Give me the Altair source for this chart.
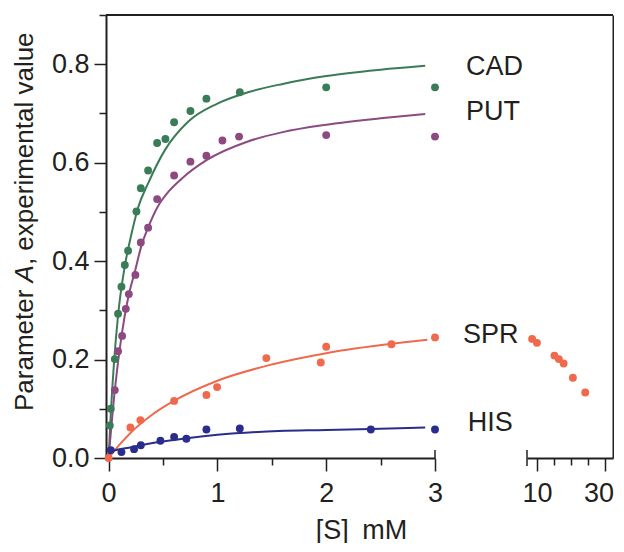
import altair as alt
import pandas as pd

# ---------------- data ----------------
series_names = ["CAD", "PUT", "SPR", "HIS"]
series_colors = ["#3a7b58", "#8c4a80", "#ef6a4c", "#2a2d8c"]

cad_x = [0.011, 0.02, 0.057, 0.087, 0.118, 0.149, 0.179, 0.256, 0.296, 0.363,
         0.446, 0.522, 0.602, 0.752, 0.899, 1.206, 2.0, 3.0]
cad_y = [0.066, 0.100, 0.201, 0.293, 0.348, 0.392, 0.421, 0.501, 0.548, 0.584,
         0.640, 0.648, 0.682, 0.705, 0.730, 0.743, 0.753, 0.753]

put_x = [0.057, 0.087, 0.124, 0.158, 0.186, 0.246, 0.296, 0.363, 0.446, 0.602,
         0.752, 0.899, 1.046, 1.199, 2.0, 3.0]
put_y = [0.138, 0.217, 0.248, 0.303, 0.333, 0.372, 0.438, 0.468, 0.526, 0.574,
         0.602, 0.614, 0.645, 0.653, 0.656, 0.653]

spr_x = [0.0, 0.2, 0.292, 0.602, 0.899, 0.997, 1.45, 1.95, 2.0, 2.6, 3.0]
spr_y = [0.0, 0.062, 0.077, 0.116, 0.128, 0.144, 0.203, 0.194, 0.226, 0.231, 0.245]

his_x = [0.02, 0.118, 0.234, 0.296, 0.476, 0.602, 0.715, 0.899, 1.206, 2.41, 3.0]
his_y = [0.016, 0.012, 0.018, 0.026, 0.035, 0.043, 0.039, 0.058, 0.060, 0.058, 0.058]

# SPR at high substrate concentration (right panel)
spr_hi_x = [8.6, 10.0, 15.1, 16.4, 17.8, 20.5, 24.1]
spr_hi_y = [0.242, 0.234, 0.208, 0.201, 0.192, 0.163, 0.133]

# fitted curves
cad_fit_x = [0, 0.02, 0.05, 0.087, 0.149, 0.21, 0.27, 0.363, 0.516, 0.73, 1.0, 1.28, 1.6, 2.0, 2.5, 2.91]
cad_fit_y = [0, 0.09, 0.195, 0.29, 0.39, 0.455, 0.508, 0.558, 0.625, 0.683, 0.72, 0.743, 0.76, 0.776, 0.789, 0.797]
put_fit_x = [0, 0.057, 0.118, 0.18, 0.243, 0.30, 0.363, 0.455, 0.55, 0.669, 0.9, 1.28, 1.6, 2.0, 2.5, 2.91]
put_fit_y = [0, 0.138, 0.247, 0.326, 0.38, 0.43, 0.468, 0.512, 0.541, 0.567, 0.605, 0.643, 0.662, 0.677, 0.69, 0.699]
spr_fit_x = [0, 0.1, 0.21, 0.4, 0.6, 1.0, 1.5, 2.0, 2.6, 2.93]
spr_fit_y = [0, 0.027, 0.053, 0.088, 0.116, 0.157, 0.19, 0.213, 0.232, 0.24]
his_fit_x = [0, 0.026, 0.21, 0.476, 0.715, 1.0, 1.374, 2.0, 2.41, 2.91]
his_fit_y = [0, 0.013, 0.022, 0.033, 0.040, 0.047, 0.053, 0.057, 0.059, 0.062]

label_x = [3.286, 3.286, 3.258, 3.30]
label_y = [0.795, 0.703, 0.250, 0.071]

x_ticks_left = [0, 0.5, 1, 1.5, 2, 2.5, 3]
x_ticks_right = [10, 15, 20, 25, 30]
y_ticks = [0.0, 0.1, 0.2, 0.3, 0.4, 0.5, 0.6, 0.7, 0.8, 0.9]

# ---------------- tables ----------------
pts = pd.concat([
    pd.DataFrame({"x": cad_x, "y": cad_y, "series": "CAD"}),
    pd.DataFrame({"x": put_x, "y": put_y, "series": "PUT"}),
    pd.DataFrame({"x": spr_x, "y": spr_y, "series": "SPR"}),
    pd.DataFrame({"x": his_x, "y": his_y, "series": "HIS"}),
], ignore_index=True)
fits = pd.concat([
    pd.DataFrame({"x": cad_fit_x, "y": cad_fit_y, "series": "CAD"}),
    pd.DataFrame({"x": put_fit_x, "y": put_fit_y, "series": "PUT"}),
    pd.DataFrame({"x": spr_fit_x, "y": spr_fit_y, "series": "SPR"}),
    pd.DataFrame({"x": his_fit_x, "y": his_fit_y, "series": "HIS"}),
], ignore_index=True)
labels = pd.DataFrame({"x": label_x, "y": label_y, "series": series_names})
pts_hi = pd.DataFrame({"x": spr_hi_x, "y": spr_hi_y, "series": "SPR"})

FONT = "Liberation Sans"
INK = "#231f20"
FS = 27
FS_T = 26
W_L, W_R, H, GAP = 329, 86, 443, 92
DOT = 62

color = alt.Color("series:N", scale=alt.Scale(domain=series_names, range=series_colors), legend=None)
y_enc = alt.Y("y:Q", scale=alt.Scale(domain=[0, 0.9], nice=False, zero=False),
              axis=alt.Axis(values=y_ticks, title=None,
                            labelExpr="(round(datum.value*10) % 2 == 0 && datum.value < 0.85) ? format(datum.value, '.1f') : ''",
                            tickSize={"condition": {"test": "round(datum.value*10) % 2 == 0 && datum.value < 0.85", "value": 12}, "value": 7},
                            labelPadding=5))
x_left = alt.X("x:Q", scale=alt.Scale(domain=[-0.024, 3], nice=False, zero=False),
               axis=alt.Axis(values=x_ticks_left, title="[S]\u2002mM", labelFlush=False, labelOverlap=False,
                             labelExpr="datum.value % 1 == 0 ? format(datum.value, 'd') : ''",
                             tickSize={"condition": {"test": "datum.value % 1 == 0", "value": 13}, "value": 7},
                             labelPadding=9, titleX=255, titleY=80, titleBaseline="alphabetic",
                             titleAlign="center", titleFontWeight="normal"))

lines = alt.Chart(fits).mark_line(strokeWidth=2, interpolate="monotone").encode(
    x=x_left, y=y_enc, color=color, detail="series:N")
dots = alt.Chart(pts).mark_circle(size=DOT, opacity=1).encode(x=x_left, y=y_enc, color=color)
names = alt.Chart(labels).mark_text(align="left", baseline="middle", font=FONT, fontSize=FS, color=INK).encode(
    x=x_left, y=y_enc, text="series:N")

top_line = alt.Chart(pd.DataFrame({"k": [0]})).mark_rule(color=INK, strokeWidth=2).encode(
    x=alt.value(0), x2=alt.value(W_L + GAP + W_R), y=alt.value(0))
brk_left = alt.Chart(pd.DataFrame({"x": [3]})).mark_rule(color=INK, strokeWidth=1.5).encode(
    x=x_left, y=alt.value(H - 8), y2=alt.value(H))

TX = -73
yt1 = alt.Chart(pd.DataFrame({"k": [0]})).mark_text(angle=270, align="left", baseline="alphabetic",
    font=FONT, fontSize=FS_T, color=INK).encode(x=alt.value(TX), y=alt.value(396), text=alt.value("Parameter "))
yt2 = alt.Chart(pd.DataFrame({"k": [0]})).mark_text(angle=270, align="left", baseline="alphabetic",
    font=FONT, fontSize=FS_T, fontStyle="italic", color=INK).encode(x=alt.value(TX), y=alt.value(396 - 128.6), text=alt.value("A"))
yt3 = alt.Chart(pd.DataFrame({"k": [0]})).mark_text(angle=270, align="left", baseline="alphabetic",
    font=FONT, fontSize=FS_T, color=INK).encode(x=alt.value(TX), y=alt.value(396 - 128.6 - 17.3), text=alt.value(", experimental value"))

left = alt.layer(lines, dots, names, top_line, brk_left, yt1, yt2, yt3).properties(width=W_L, height=H)

x_right = alt.X("x:Q", scale=alt.Scale(domain=[7.1, 32.2], nice=False, zero=False),
                axis=alt.Axis(values=x_ticks_right, title=None, labelFlush=False, labelOverlap=False,
                              labelExpr="(datum.value == 10 || datum.value == 30) ? format(datum.value, 'd') : ''",
                              tickSize={"condition": {"test": "datum.value == 10 || datum.value == 30", "value": 13}, "value": 7},
                              labelOffset={"condition": {"test": "datum.value == 30", "value": -7}, "value": 0},
                              labelPadding=9))
y_right = alt.Y("y:Q", scale=alt.Scale(domain=[0, 0.9], nice=False, zero=False),
                axis=alt.Axis(orient="right", ticks=False, labels=False, title=None, values=y_ticks))
dots_hi = alt.Chart(pts_hi).mark_circle(size=DOT, opacity=1).encode(x=x_right, y=y_right, color=color)
brk_right = alt.Chart(pd.DataFrame({"k": [0]})).mark_rule(color=INK, strokeWidth=1.5).encode(
    x=alt.value(0), y=alt.value(H - 8), y2=alt.value(H + 8))
right = alt.layer(dots_hi, brk_right).properties(width=W_R, height=H)

chart = alt.hconcat(left, right, spacing=GAP, bounds="flush").properties(
    padding={"left": 3, "top": 6, "right": 0, "bottom": 0}
).configure_view(stroke=None).configure_axis(
    grid=False, domainColor=INK, domainWidth=2, tickColor=INK, tickWidth=1.5,
    labelColor=INK, labelFont=FONT, labelFontSize=FS, titleColor=INK, titleFont=FONT, titleFontSize=FS
)

chart.save("out.html", embed_options={"renderer": "svg", "actions": False})
